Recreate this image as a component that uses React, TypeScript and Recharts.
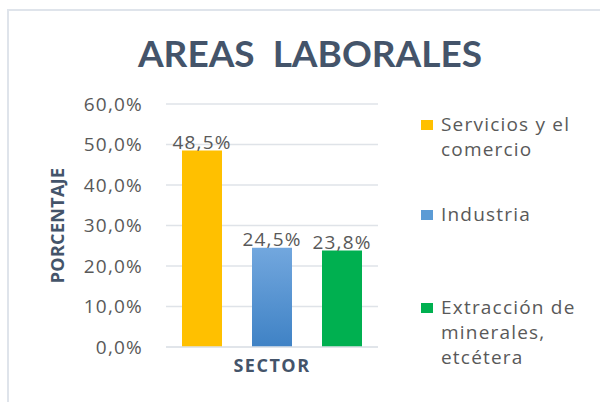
import React from 'react';
import { BarChart, Bar, XAxis, YAxis, CartesianGrid, LabelList, Legend } from 'recharts';

const chartTitle = 'AREAS  LABORALES';
const categories = ['SECTOR'];
const seriesNames = ['Servicios y el comercio', 'Industria', 'Extracción de minerales, etcétera'];
const seriesValues = [48.5, 24.5, 23.8];
const seriesColors = ['#ffc000', 'url(#blueGrad)', '#00b050'];
const legendColors = ['#ffc000', '#5b9bd5', '#00b050'];
const legendLines = [['Servicios y el', 'comercio'], ['Industria'], ['Extracción de', 'minerales,', 'etcétera']];
const legendTops = [112, 202, 295];
const yTicks = [0, 10, 20, 30, 40, 50, 60];
const yAxisTitle = 'PORCENTAJE';

const data = categories.map((name) => {
  const row: Record<string, string | number> = { name };
  seriesValues.forEach((v, i) => {
    row['s' + i] = v;
  });
  return row;
});

const fmt = (v: number) => v.toFixed(1).replace('.', ',') + '%';

const FONT = "'Open Sans', sans-serif";
const TITLE_FONT = "Lato, 'Open Sans', sans-serif";
const TEXT = '#595959';
const DARK = '#44546a';
const LS = '1.2px';

const LegendContent = () => (
  <div style={{ position: 'absolute', left: 0, top: 0 }}>
    {legendLines.map((lines, i) => (
      <div key={i} style={{ position: 'absolute', left: 421, top: legendTops[i], whiteSpace: 'nowrap' }}>
        <div style={{ position: 'absolute', left: 0, top: 8, width: 12, height: 10, background: legendColors[i] }} />
        {lines.map((l, j) => (
          <div key={j} style={{ position: 'absolute', left: 20, top: j * 25, height: 25, lineHeight: '25px', fontSize: 19, letterSpacing: LS, color: TEXT }}>
            {l}
          </div>
        ))}
      </div>
    ))}
  </div>
);

export default function App() {
  return (
    <div style={{ position: 'absolute', left: 0, top: 0, width: 600, height: 402, background: '#fff', fontFamily: FONT, overflow: 'hidden' }}>
      <svg width={0} height={0} style={{ position: 'absolute' }}>
        <defs>
          <linearGradient id="blueGrad" x1="0" y1="0" x2="0" y2="1">
            <stop offset="0%" stopColor="#72a7de" />
            <stop offset="100%" stopColor="#3f82c5" />
          </linearGradient>
        </defs>
      </svg>
      <div style={{ position: 'absolute', left: 7, top: 9, width: 600, height: 400, borderLeft: '2px solid #dfe4eb', borderTop: '2px solid #dfe4eb' }} />
      <div style={{ position: 'absolute', left: 0, top: 30, width: 620, textAlign: 'center', fontSize: 37, fontWeight: 700, color: DARK, whiteSpace: 'pre', fontFamily: TITLE_FONT }}>
        {chartTitle}
      </div>
      <div style={{ position: 'absolute', left: 0, top: 0 }}>
        <BarChart
          width={600}
          height={402}
          data={data}
          margin={{ top: 104, right: 222, bottom: 25, left: 46 }}
          barSize={40}
          barGap={30}
        >
          <CartesianGrid vertical={false} stroke="#dfe3e8" strokeWidth={1.5} />
          <XAxis
            dataKey="name"
            tick={false}
            tickLine={false}
            axisLine={{ stroke: '#dfe3e8', strokeWidth: 1.5 }}
            height={30}
            label={{ value: 'SECTOR', position: 'insideBottom', offset: 5, fill: DARK, fontSize: 18, fontWeight: 700, style: { letterSpacing: '1.5px' } }}
          />
          <YAxis
            width={120}
            domain={[0, 60]}
            ticks={yTicks}
            tickFormatter={fmt}
            axisLine={false}
            tickLine={false}
            tickSize={0}
            tickMargin={23}
            tick={{ fill: TEXT, fontSize: 19, style: { letterSpacing: LS } }}
            label={{ value: yAxisTitle, angle: -90, position: 'insideLeft', offset: 12, fill: DARK, fontSize: 18, fontWeight: 700, style: { textAnchor: 'middle', letterSpacing: '0.3px' } }}
          />
          <Legend content={<LegendContent />} wrapperStyle={{ position: 'absolute', left: 0, top: 0, width: 0, height: 0 }} />
          {seriesNames.map((n, i) => (
            <Bar key={n} name={n} dataKey={'s' + i} fill={seriesColors[i]} isAnimationActive={false}>
              <LabelList dataKey={'s' + i} position="top" offset={2} formatter={(v: any) => fmt(Number(v))} fill={TEXT} fontSize={19} style={{ letterSpacing: LS }} />
            </Bar>
          ))}
        </BarChart>
      </div>
    </div>
  );
}
